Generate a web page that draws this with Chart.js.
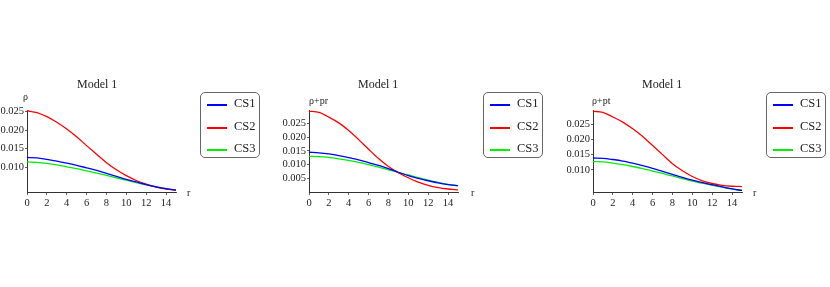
<!DOCTYPE html>
<html>
<head>
<meta charset="utf-8">
<script src="https://cdn.jsdelivr.net/npm/chart.js@4.4.0/dist/chart.umd.min.js"></script>
<style>
  html, body { margin: 0; padding: 0; background: #fff; }
  body { width: 830px; height: 287px; position: relative; overflow: hidden; font-family: "Liberation Serif", "DejaVu Serif", serif; }
  .cv { position: absolute; }
  .txt { position: absolute; color: #222; white-space: nowrap; font-family: "Liberation Serif", serif; }
  .title { font-size: 12px; }
  .lab { font-size: 10px; }
  .legend { position: absolute; width: 60px; height: 66px; border: 1px solid #666; border-radius: 5px; box-sizing: border-box; background: #fff; }
  .row { position: absolute; left: 6px; height: 14px; font-size: 12.5px; font-family: "Liberation Serif", serif; color: #222; }
  .row span.ln { position: absolute; left: 0; top: 6px; width: 20px; height: 2px; }
  .row span.t { position: absolute; left: 27px; top: -2px; }
</style>
</head>
<body>
<script>
// ---- data ----
const r = [0, 1, 2, 3, 4, 5, 6, 7, 8, 9, 10, 11, 12, 13, 14, 15];

// Panel 1: rho
const rho_CS1 = [0.0126, 0.0125, 0.0121, 0.0116, 0.0111, 0.0105, 0.0098, 0.0091, 0.0083, 0.0075, 0.0067, 0.0060, 0.0053, 0.0047, 0.0042, 0.0038];
const rho_CS2 = [0.0252, 0.0247, 0.0236, 0.0221, 0.0203, 0.0182, 0.0158, 0.0135, 0.0112, 0.0093, 0.0077, 0.0064, 0.0054, 0.0046, 0.0041, 0.0038];
const rho_CS3 = [0.0114, 0.0113, 0.0110, 0.0106, 0.0101, 0.0096, 0.0090, 0.0084, 0.0078, 0.0071, 0.0065, 0.0058, 0.0052, 0.0047, 0.0042, 0.0038];

// Panel 2: rho + pr
const rhopr_CS1 = [0.0145, 0.0143, 0.0139, 0.0133, 0.0125, 0.0117, 0.0107, 0.0097, 0.0085, 0.0072, 0.0060, 0.0050, 0.0041, 0.0033, 0.0027, 0.0023];
const rhopr_CS2 = [0.0295, 0.0290, 0.0273, 0.0252, 0.0224, 0.0191, 0.0156, 0.0122, 0.0093, 0.0070, 0.0052, 0.0036, 0.0024, 0.0016, 0.0011, 0.0008];
const rhopr_CS3 = [0.0130, 0.0129, 0.0126, 0.0121, 0.0115, 0.0108, 0.0100, 0.0091, 0.0081, 0.0071, 0.0062, 0.0052, 0.0043, 0.0035, 0.0028, 0.0023];

// Panel 3: rho + pt
const rhopt_CS1 = [0.0139, 0.0138, 0.0134, 0.0129, 0.0122, 0.0114, 0.0105, 0.0095, 0.0085, 0.0075, 0.0066, 0.0058, 0.0051, 0.0044, 0.0037, 0.0032];
const rhopt_CS2 = [0.0293, 0.0289, 0.0274, 0.0257, 0.0235, 0.0210, 0.0180, 0.0150, 0.0120, 0.0097, 0.0078, 0.0064, 0.0055, 0.0049, 0.0046, 0.0045];
const rhopt_CS3 = [0.0127, 0.0126, 0.0122, 0.0117, 0.0111, 0.0104, 0.0096, 0.0088, 0.0080, 0.0071, 0.0063, 0.0056, 0.0049, 0.0043, 0.0037, 0.0032];

const seriesNames = ["CS1", "CS2", "CS3"];
const seriesColors = ["#0000ff", "#ff0000", "#00ee00"];
const xTicks = [0, 2, 4, 6, 8, 10, 12, 14];
const yTicks1 = [0.010, 0.015, 0.020, 0.025];
const yTicks2 = [0.005, 0.010, 0.015, 0.020, 0.025];
const yTicks3 = [0.010, 0.015, 0.020, 0.025];
const titleText = "Model 1";
const yLabels = ["ρ", "ρ+pr", "ρ+pt"];
const xLabel = "r";

// ---- layout ----
const panels = [
  { left: 0,   yw: 27, padR: 24, ymin: 0.0033, ymax: 0.0254, ticks: yTicks1, data: [rho_CS1, rho_CS2, rho_CS3],
    titleX: 97, ylabX: 23, legX: 200, xlabX: 187 },
  { left: 280, yw: 29, padR: 22, ymin: 0.0,    ymax: 0.0299, ticks: yTicks2, data: [rhopr_CS1, rhopr_CS2, rhopr_CS3],
    titleX: 378, ylabX: 309, legX: 483, xlabX: 471 },
  { left: 560, yw: 33, padR: 18, ymin: 0.0027, ymax: 0.0297, ticks: yTicks3, data: [rhopt_CS1, rhopt_CS2, rhopt_CS3],
    titleX: 662, ylabX: 592, legX: 766, xlabX: 753 }
];

const FONT = "'Liberation Serif', 'DejaVu Serif', serif";
const TOP = 70, H = 142, W = 200;

panels.forEach((p, i) => {
  const c = document.createElement('canvas');
  c.className = 'cv';
  c.style.left = p.left + 'px';
  c.style.top = TOP + 'px';
  c.style.width = W + 'px';
  c.style.height = H + 'px';
  c.width = W; c.height = H;
  document.body.appendChild(c);

  const t = document.createElement('div');
  t.className = 'txt title';
  t.textContent = titleText;
  t.style.left = (p.titleX - 20) + 'px';
  t.style.top = '77px';
  document.body.appendChild(t);

  const yl = document.createElement('div');
  yl.className = 'txt lab';
  yl.textContent = yLabels[i];
  yl.style.left = p.ylabX + 'px';
  yl.style.top = (i === 0 ? 91 : 95) + 'px';
  document.body.appendChild(yl);

  const xl = document.createElement('div');
  xl.className = 'txt lab';
  xl.textContent = xLabel;
  xl.style.left = p.xlabX + 'px';
  xl.style.top = '187px';
  document.body.appendChild(xl);

  const lg = document.createElement('div');
  lg.className = 'legend';
  lg.style.left = p.legX + 'px';
  lg.style.top = '92px';
  seriesNames.forEach((n, k) => {
    const row = document.createElement('div');
    row.className = 'row';
    row.style.top = (5 + k * 22.5) + 'px';
    row.innerHTML = '<span class="ln" style="background:' + seriesColors[k] + '"></span><span class="t">' + n + '</span>';
    lg.appendChild(row);
  });
  document.body.appendChild(lg);

  new Chart(c, {
    type: 'line',
    data: {
      datasets: seriesNames.map((n, k) => ({
        label: n,
        data: r.map((x, j) => ({ x: x, y: p.data[k][j] })),
        borderColor: seriesColors[k],
        borderWidth: 1.3,
        pointRadius: 0,
        fill: false,
        cubicInterpolationMode: 'monotone'
      }))
    },
    options: {
      responsive: false,
      animation: false,
      devicePixelRatio: 1,
      layout: { padding: { top: 40, right: p.padR, left: 0, bottom: 0 } },
      plugins: { legend: { display: false }, tooltip: { enabled: false }, title: { display: false } },
      scales: {
        x: {
          type: 'linear', min: 0, max: 15,
          afterBuildTicks: s => { s.ticks = xTicks.map(v => ({ value: v })); },
          afterFit: s => { s.height = 20; },
          grid: { display: true, drawOnChartArea: false, tickLength: 3, color: '#333', lineWidth: 0.8 },
          border: { display: true, color: '#333', width: 1 },
          ticks: { color: '#222', font: { family: FONT, size: 10.5 }, padding: 2, maxRotation: 0 }
        },
        y: {
          type: 'linear', min: p.ymin, max: p.ymax,
          afterBuildTicks: s => { s.ticks = p.ticks.map(v => ({ value: v })); },
          afterFit: s => { s.width = p.yw; },
          grid: { display: true, drawOnChartArea: false, tickLength: 2, color: '#333', lineWidth: 0.8 },
          border: { display: true, color: '#333', width: 1 },
          ticks: { color: '#222', font: { family: FONT, size: 10.5 }, padding: 1, callback: v => v.toFixed(3) }
        }
      }
    }
  });
});
</script>
</body>
</html>
